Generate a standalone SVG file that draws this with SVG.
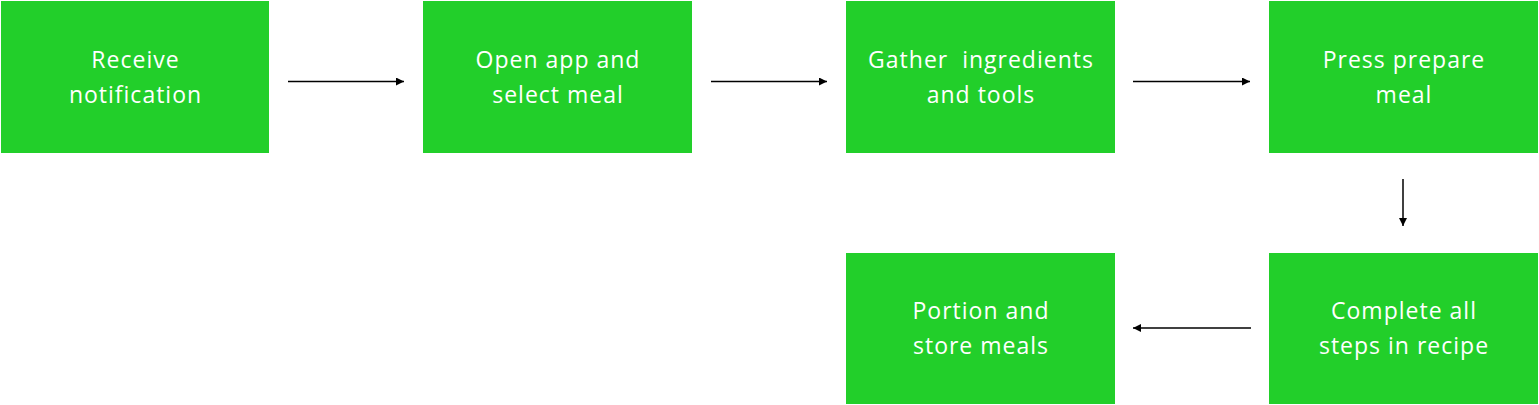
<svg xmlns="http://www.w3.org/2000/svg" width="1539" height="405" viewBox="0 0 1539 405">
<style>
.box{fill:#22cf2a}
.lbl{fill:#ffffff;font-family:"Open Sans","Liberation Sans",sans-serif;font-size:23px;letter-spacing:1px;text-anchor:middle}
.conn{stroke:#000;stroke-width:1.5;fill:none;marker-end:url(#ah)}
</style>
<defs>
<marker id="ah" viewBox="0 0 10 10" refX="10" refY="5" markerWidth="8" markerHeight="8" markerUnits="userSpaceOnUse" orient="auto">
<path d="M0,0 L10,5 L0,10 z" fill="#000"/>
</marker>
</defs>
<rect width="1539" height="405" fill="#fff"/>
<g id="n1"><rect class="box" x="1" y="1" width="268" height="152"/><text class="lbl" x="135.5" y="68">Receive</text><text class="lbl" x="135.5" y="103">notification</text></g>
<g id="n2"><rect class="box" x="423" y="1" width="269" height="152"/><text class="lbl" x="558" y="68">Open app and</text><text class="lbl" x="558" y="103">select meal</text></g>
<g id="n3"><rect class="box" x="846" y="1" width="269" height="152"/><text class="lbl" x="981" y="68" xml:space="preserve">Gather  ingredients</text><text class="lbl" x="981" y="103">and tools</text></g>
<g id="n4"><rect class="box" x="1269" y="1" width="269" height="152"/><text class="lbl" x="1404" y="68">Press prepare</text><text class="lbl" x="1404" y="103">meal</text></g>
<g id="n5"><rect class="box" x="1269" y="253" width="269" height="151"/><text class="lbl" x="1404" y="319">Complete all</text><text class="lbl" x="1404" y="354">steps in recipe</text></g>
<g id="n6"><rect class="box" x="846" y="253" width="269" height="151"/><text class="lbl" x="981" y="319">Portion and</text><text class="lbl" x="981" y="354">store meals</text></g>
<g id="connectors">
<line class="conn" x1="288" y1="81.5" x2="404" y2="81.5"/>
<line class="conn" x1="711" y1="81.5" x2="827" y2="81.5"/>
<line class="conn" x1="1133" y1="81.5" x2="1250" y2="81.5"/>
<line class="conn" x1="1403" y1="179" x2="1403" y2="226"/>
<line class="conn" x1="1251" y1="328" x2="1133" y2="328"/>
</g>
</svg>
